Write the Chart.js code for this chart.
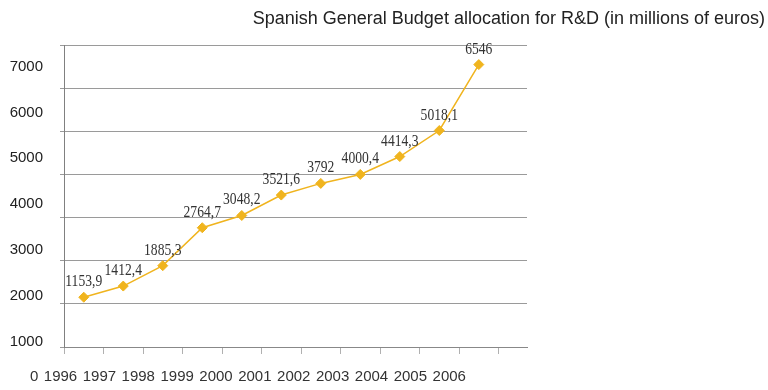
<!DOCTYPE html>
<html>
<head>
<meta charset="utf-8">
<title>Spanish General Budget allocation for R&amp;D</title>
<script src="https://cdn.jsdelivr.net/npm/chart.js@4.4.1/dist/chart.umd.min.js"></script>
<style>
  body { margin: 0; background: #fff; }
  canvas { display: block; }
</style>
</head>
<body>
<canvas id="rdChart" width="768" height="390"></canvas>
<script>
// Chart data
const years = ['1996', '1997', '1998', '1999', '2000', '2001', '2002', '2003', '2004', '2005', '2006'];
const budget = [1153.9, 1412.4, 1885.3, 2764.7, 3048.2, 3521.6, 3792, 4000.4, 4414.3, 5018.1, 6546];
const yTickLabels = [1000, 2000, 3000, 4000, 5000, 6000, 7000];
const xTickLabels = ['0', '1996', '1997', '1998', '1999', '2000', '2001', '2002', '2003', '2004', '2005', '2006'];
const chartTitle = 'Spanish General Budget allocation for R&D (in millions of euros)';

const sansFont = '"Liberation Sans", Arial, sans-serif';
const labelFont = '"Liberation Serif", "DejaVu Serif", serif';
const gold = '#f0b41e';

Chart.defaults.font.family = sansFont;

// value labels above each point (comma as decimal separator), squeezed a bit
const valueLabels = {
  id: 'valueLabels',
  afterDatasetsDraw(chart) {
    const ctx = chart.ctx;
    const meta = chart.getDatasetMeta(0);
    ctx.save();
    ctx.font = '16px ' + labelFont;
    ctx.fillStyle = '#333';
    ctx.textAlign = 'center';
    ctx.textBaseline = 'alphabetic';
    meta.data.forEach((pt, i) => {
      ctx.save();
      ctx.translate(pt.x, pt.y - 11);
      ctx.scale(0.85, 1);
      ctx.fillText(String(budget[i]).replace('.', ','), 0, 0);
      ctx.restore();
    });
    ctx.restore();
  }
};

// the row of year labels under the axis
const yearRow = {
  id: 'yearRow',
  afterDraw(chart) {
    const ctx = chart.ctx;
    const area = chart.chartArea;
    ctx.save();
    ctx.font = '15px ' + sansFont;
    ctx.fillStyle = '#333';
    ctx.textAlign = 'left';
    ctx.textBaseline = 'alphabetic';
    let x = area.left - 34;
    xTickLabels.forEach(t => {
      ctx.fillText(t, x, area.bottom + 34);
      x += ctx.measureText(t).width + 5.5;
    });
    ctx.restore();
  }
};

const ctx = document.getElementById('rdChart').getContext('2d');
const rdChart = new Chart(ctx, {
  type: 'line',
  data: {
    datasets: [{
      label: 'R&D',
      data: budget.map((v, i) => ({ x: i, y: v })),
      borderColor: gold,
      borderWidth: 1.5,
      pointStyle: 'rectRot',
      pointRadius: 5,
      pointBackgroundColor: gold,
      pointBorderColor: gold,
      pointBorderWidth: 1,
      tension: 0,
      xAxisID: 'x',
      yAxisID: 'y'
    }]
  },
  options: {
    responsive: false,
    animation: false,
    events: [],
    layout: { padding: { left: 0, right: 3, top: 0, bottom: 0 } },
    plugins: {
      legend: { display: false },
      tooltip: { enabled: false },
      title: {
        display: true,
        text: chartTitle,
        align: 'end',
        color: '#222',
        font: { size: 18, weight: 'normal', family: sansFont },
        padding: { top: 8, bottom: 15.4 }
      }
    },
    scales: {
      x: {
        type: 'linear',
        position: 'bottom',
        min: -0.5,
        max: 11.22,
        afterBuildTicks: s => {
          s.ticks = [{ value: -0.5 }].concat(years.map((_, i) => ({ value: i + 0.5 })));
        },
        ticks: { display: false },
        grid: { drawOnChartArea: false, tickLength: 7, color: '#b0b0b0' },
        border: { color: '#888' },
        afterFit: s => { s.height = 43; }
      },
      y: {
        type: 'linear',
        position: 'left',
        weight: 0,
        min: 0,
        max: 7000,
        ticks: { display: false, stepSize: 1000 },
        grid: { color: '#9a9a9a', tickLength: 4 },
        border: { color: '#808080' },
        afterFit: s => { s.width = 4; }
      },
      yLabels: {
        type: 'linear',
        axis: 'y',
        position: 'left',
        weight: 10,
        min: 884,
        max: 7473,
        afterBuildTicks: s => {
          s.ticks = yTickLabels.map(v => ({ value: v }));
        },
        ticks: {
          color: '#222',
          padding: 17,
          font: { size: 15 },
          callback: v => String(v)
        },
        grid: { display: false, drawTicks: false },
        border: { display: false },
        afterFit: s => { s.width = 60; }
      },
      yPad: {
        type: 'linear',
        axis: 'y',
        position: 'right',
        ticks: { display: false },
        grid: { display: false, drawTicks: false },
        border: { display: false },
        afterFit: s => { s.width = 238; }
      }
    }
  },
  plugins: [valueLabels, yearRow]
});
</script>
</body>
</html>
